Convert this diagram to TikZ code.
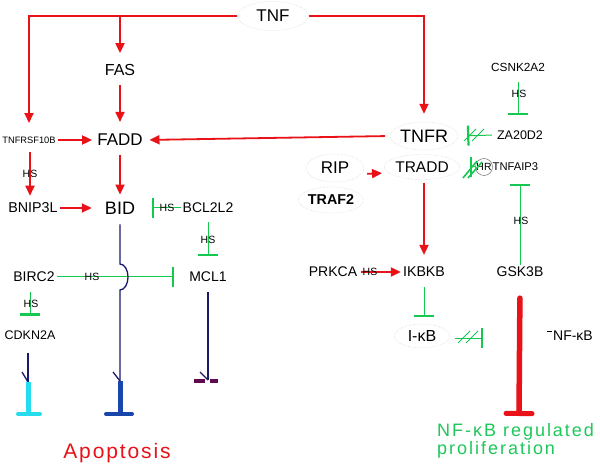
\documentclass[tikz,border=0pt]{standalone}
\usepackage{fontspec}
\setmainfont{Liberation Sans}
\newfontfamily\spacedA[LetterSpace=9]{Liberation Sans}
\newfontfamily\spacedB[LetterSpace=11]{Liberation Sans}
\usetikzlibrary{arrows.meta,shapes.geometric}
\definecolor{arrred}{RGB}{232,18,24}
\definecolor{inhgreen}{RGB}{20,200,80}
\definecolor{txtgreen}{RGB}{30,200,90}
\definecolor{navyline}{RGB}{25,25,110}
\definecolor{bidblue}{RGB}{25,70,170}
\definecolor{cyanbar}{RGB}{40,220,240}
\definecolor{mclpurple}{RGB}{95,10,80}
\newcommand{\fsz}[1]{\fontsize{#1}{#1}\selectfont}
\tikzset{
  lbl/.style={inner xsep=2pt, inner ysep=7pt, text=black},
  oval/.style={ellipse, draw=black!22, densely dotted, inner sep=0pt},
  act/.style={draw=arrred, line width=1.8pt, -{Triangle[length=10pt,width=9pt]}},
  inh/.style={draw=inhgreen, line width=1pt, -{Bar[width=20pt,line width=2.2pt]}},
  hs/.style={font=\fsz{10.5}, inner sep=0pt, text=black},
  navy/.style={draw=navyline, line width=1.3pt},
  slash/.style={draw=inhgreen, line width=1pt},
}
\begin{document}
\begin{tikzpicture}[x=1pt,y=-1pt]
\fill[white] (0,0) rectangle (600,465);
\useasboundingbox (0,0) rectangle (600,465);

% ---------- nodes ----------
\node[oval, minimum width=71pt, minimum height=29pt, font=\fsz{17}] (tnf) at (273,16) {TNF};
\node[lbl, font=\fsz{16}] (fas) at (120,70) {FAS};
\node[lbl, font=\fsz{17}] (fadd) at (120,140) {FADD};
\node[lbl, font=\fsz{9.3}] (tnfrsf) at (29,140) {TNFRSF10B};
\node[lbl, font=\fsz{14.3}] (bnip) at (33,208) {BNIP3L};
\node[lbl, font=\fsz{18}] (bid) at (120,208) {BID};
\node[lbl, font=\fsz{14}] (bcl) at (208,208) {BCL2L2};
\node[lbl, font=\fsz{14}] (birc) at (34,277) {BIRC2};
\node[lbl, font=\fsz{14}] (mcl) at (208,277) {MCL1};
\node[lbl, font=\fsz{12.5}] (cdkn) at (30,335) {CDKN2A};

\node[lbl, font=\fsz{11.8}] (csnk) at (518,67) {CSNK2A2};
\node[oval, minimum width=58pt, minimum height=28pt, font=\fsz{18}] (tnfr) at (424,136) {TNFR};
\node[lbl, font=\fsz{12.5}] (za) at (520,135) {ZA20D2};
\node[oval, minimum width=58pt, minimum height=28pt, font=\fsz{17}] (rip) at (335,168) {RIP};
\node[oval, minimum width=60pt, minimum height=25pt, font=\fsz{15.5}] (tradd) at (422,167) {TRADD};
\node[circle, draw=black!65, minimum size=17pt, inner sep=0pt, font=\fsz{10.4}] (hr) at (484,167) {HR};
\node[lbl, inner xsep=0pt, font=\fsz{11.2}, anchor=west] (tnfaip) at (492.5,167) {TNFAIP3};
\node[oval, minimum width=56pt, minimum height=26pt, font=\bfseries\fsz{14.3}] (traf) at (331,200) {TRAF2};
\node[lbl, font=\fsz{14}] (prkca) at (333,272) {PRKCA};
\node[lbl, font=\fsz{14.2}] (ikbkb) at (424,272) {IKBKB};
\node[lbl, font=\fsz{14}] (gsk) at (520,272) {GSK3B};
\node[oval, minimum width=55pt, minimum height=24pt, font=\fsz{16}] (ikb) at (422,336) {I-κB};
\node[lbl, font=\fsz{14}] (nfkb) at (573,336) {NF-κB};

\node[text=arrred, font=\spacedA\fsz{21}, anchor=base, inner sep=0pt] (apop) at (117,458) {Apoptosis};
\node[text=txtgreen, font=\spacedB\fsz{18}, anchor=west, align=left, inner sep=0pt] (prolif) at (437,441)
  {\fontsize{18}{22}\selectfont NF-κB regulated\\proliferation};

% ---------- coordinates ----------
\coordinate (cdkend) at (28,382);
\coordinate (bidend) at (120,381);
\coordinate (mclend) at (208,380);
\coordinate (nfend) at (519,416);

% ---------- activation arrows ----------
\draw[act, shorten >=4pt] (tnf.west) -| (fas.north);
\draw[act, shorten >=6.5pt] (tnf.west) -| (tnfrsf.north);
\draw[act, shorten >=8pt] (tnf.east) -| (tnfr.north);
\draw[act, shorten <=2pt, shorten >=5pt] (fas.south) -- (fadd.north);
\draw[act, shorten >=3pt] (tnfrsf.east) -- (fadd.west);
\draw[act, shorten <=5pt, shorten >=4.6pt] (tnfr.west) -- (fadd.east);
\draw[act, shorten <=2pt] (fadd.south) -- (bid.north);
\draw[act, shorten <=1.5pt] (tnfrsf.south -| cdkn.north) -- (cdkn.north |- bnip.north);
\node[hs] (hs1) at (30,174) {HS};
\draw[act, shorten >=11pt] (bnip.east) -- (bid.west);
\draw[act, shorten <=3pt, shorten >=2pt] ([yshift=-6pt]rip.east) -- ([yshift=-6pt]tradd.west);
\draw[act, shorten <=3pt, shorten >=5pt] (tradd.south -| ikbkb.north) -- (ikbkb.north);
\draw[act, shorten <=2pt] (prkca.east) -- (ikbkb.west);
\node[hs] (hs2) at (370,272) {HS};

% ---------- inhibitions ----------
\draw[inh, shorten >=15pt] (bcl.west) -- (bid.east);
\node[hs] (hs3) at (167,208) {HS};
\draw[inh, shorten <=2pt, shorten >=9pt] (bcl.south) -- (mcl.north);
\node[hs] (hs4) at (208,240) {HS};
\draw[inh, shorten >=13pt] (birc.east) -- (mcl.west);
\node[hs] (hs5) at (92,277) {HS};
\draw[inh, shorten <=3pt, shorten >=7.7pt] (cdkn.north |- birc.south) -- (cdkn.north);
\node[hs] (hs6) at (31,304) {HS};
\draw[inh, shorten <=4pt, shorten >=8.5pt] (csnk.south) -- (csnk.south |- za.north);
\node[hs] (hs7) at (519,94) {HS};
\draw[inh, shorten <=3pt, shorten >=9pt] (za.west) -- (tnfr.east);
\draw[slash] (464,141) -- (476,129);
\draw[slash] (472,141) -- (484,129);
\draw[inh, shorten >=10pt] (hr.west) -- (tradd.east);
\draw[slash, line width=1.6pt] (463,178) -- (477,161);
\draw[slash, line width=1.6pt] (468,178) -- (482,162);
\draw[inh, shorten <=-5pt, shorten >=6pt] (gsk.north) -- (gsk.north |- tnfaip.south);
\node[hs] (hs8) at (521,221) {HS};
\draw[inh, shorten <=3pt, shorten >=7pt] (ikbkb.south) -- (ikbkb.south |- ikb.north);
\draw[inh, shorten <=5pt, shorten >=68pt] ([yshift=-2pt]ikb.east) -- ([yshift=-2pt]nfkb.west);
\draw[slash] (458,343) -- (470,331);
\draw[slash] (466,343) -- (478,331);
\draw[black, line width=0.8pt] (547,331) -- (552,331);

% ---------- proliferation bar ----------
\draw[arrred, line width=5.5pt, line cap=round, shorten <=14pt,
      -{Bar[width=26pt,line width=5pt,round]}] (gsk.south) -- (nfend);

% ---------- apoptosis lines ----------
\draw[navy, shorten <=3pt] (bid.south) -- (120,264)
   arc[start angle=-90, end angle=90, x radius=8, y radius=13] -- (bidend);
\draw[navy] (113,372) -- (bidend);
\draw[bidblue, line width=5pt] (bidend) -- ++(0,32);
\draw[bidblue, line width=4pt, line cap=round] (106,414) -- (132,414);

\draw[navy, shorten <=6pt] (cdkn.south -| cdkend) -- (cdkend);
\draw[navy] (22,372) -- (cdkend);
\draw[cyanbar, line width=5pt] (cdkend) -- ++(0,31);
\draw[cyanbar, line width=4pt, line cap=round] (18,414) -- (40,414);

\draw[navy, shorten <=3pt] (mcl.south) -- (mclend);
\draw[navy] (200,372) -- (mclend);
\draw[mclpurple, line width=4.5pt] (194,381) -- (205,381);
\draw[mclpurple, line width=4.5pt] (210,381) -- (218,381);
\end{tikzpicture}
\end{document}
